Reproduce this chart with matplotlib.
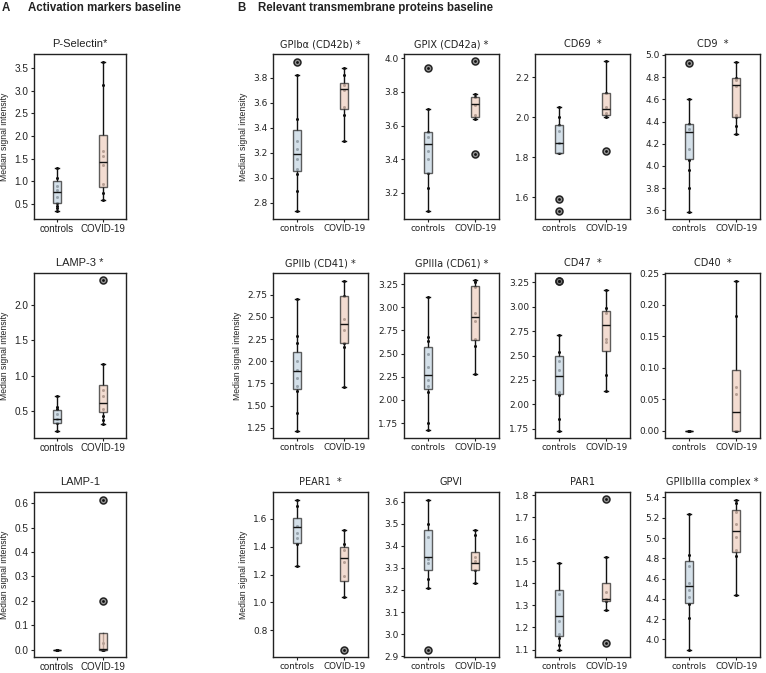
import matplotlib
matplotlib.use("Agg")
import matplotlib.pyplot as plt
from matplotlib.ticker import MultipleLocator

# ---------------- data ----------------
groups = ["controls", "COVID-19"]

# stats: [q1, median, q3, whisker_low, whisker_high]
pselectin_ctrl_stats = [0.51, 0.77, 1.01, 0.33, 1.30]
pselectin_ctrl_pts = [1.30, 1.07, 0.90, 0.80, 0.65, 0.52, 0.45, 0.40, 0.33]
pselectin_ctrl_fliers = []
pselectin_covid_stats = [0.88, 1.42, 2.02, 0.59, 3.65]
pselectin_covid_pts = [3.65, 3.12, 1.66, 1.55, 1.35, 0.93, 0.75, 0.59]
pselectin_covid_fliers = []

lamp3_ctrl_stats = [0.32, 0.38, 0.51, 0.22, 0.71]
lamp3_ctrl_pts = [0.71, 0.56, 0.52, 0.46, 0.38, 0.33, 0.22]
lamp3_ctrl_fliers = []
lamp3_covid_stats = [0.48, 0.61, 0.87, 0.31, 1.16]
lamp3_covid_pts = [1.16, 0.79, 0.71, 0.52, 0.42, 0.37, 0.31]
lamp3_covid_fliers = [2.35]

lamp1_ctrl_stats = [0.0, 0.0, 0.0, 0.0, 0.0]
lamp1_ctrl_pts = [0.0, 0.0, 0.0, 0.0, 0.0]
lamp1_ctrl_fliers = []
lamp1_covid_stats = [0.0, 0.002, 0.069, 0.0, 0.0]
lamp1_covid_pts = [0.025, 0.0, 0.0]
lamp1_covid_fliers = [0.615, 0.20]

gpiba_ctrl_stats = [3.05, 3.19, 3.38, 2.73, 3.82]
gpiba_ctrl_pts = [3.82, 3.47, 3.29, 3.23, 3.15, 3.07, 3.03, 2.89, 2.73]
gpiba_ctrl_fliers = [3.93]
gpiba_covid_stats = [3.55, 3.71, 3.76, 3.29, 3.88]
gpiba_covid_pts = [3.88, 3.82, 3.74, 3.70, 3.57, 3.50, 3.29]
gpiba_covid_fliers = []

gpix_ctrl_stats = [3.32, 3.49, 3.56, 3.09, 3.70]
gpix_ctrl_pts = [3.70, 3.56, 3.53, 3.45, 3.40, 3.32, 3.23, 3.09]
gpix_ctrl_fliers = [3.94]
gpix_covid_stats = [3.65, 3.73, 3.77, 3.64, 3.79]
gpix_covid_pts = [3.79, 3.77, 3.72, 3.66, 3.64]
gpix_covid_fliers = [3.98, 3.43]

cd69_ctrl_stats = [1.82, 1.87, 1.96, 1.82, 2.05]
cd69_ctrl_pts = [2.05, 2.00, 1.96, 1.93, 1.87, 1.82]
cd69_ctrl_fliers = [1.59, 1.53]
cd69_covid_stats = [2.01, 2.04, 2.12, 2.00, 2.28]
cd69_covid_pts = [2.28, 2.12, 2.05, 2.02, 2.00]
cd69_covid_fliers = [1.83]

cd9_ctrl_stats = [4.06, 4.31, 4.38, 3.59, 4.60]
cd9_ctrl_pts = [4.60, 4.38, 4.33, 4.15, 4.05, 3.96, 3.80, 3.59]
cd9_ctrl_fliers = [4.93]
cd9_covid_stats = [4.44, 4.73, 4.79, 4.29, 4.94]
cd9_covid_pts = [4.94, 4.79, 4.77, 4.72, 4.46, 4.44, 4.36, 4.29]
cd9_covid_fliers = []

gpiib_ctrl_stats = [1.69, 1.89, 2.10, 1.22, 2.70]
gpiib_ctrl_pts = [2.70, 2.29, 2.21, 2.00, 1.90, 1.81, 1.72, 1.67, 1.42, 1.22]
gpiib_ctrl_fliers = []
gpiib_covid_stats = [2.21, 2.42, 2.73, 1.71, 2.91]
gpiib_covid_pts = [2.91, 2.74, 2.48, 2.35, 2.21, 2.16, 1.71]
gpiib_covid_fliers = []

gpiiia_ctrl_stats = [2.12, 2.27, 2.57, 1.67, 3.11]
gpiiia_ctrl_pts = [3.11, 2.68, 2.64, 2.50, 2.36, 2.22, 2.15, 2.09, 1.75, 1.67]
gpiiia_ctrl_fliers = []
gpiiia_covid_stats = [2.65, 2.90, 3.23, 2.28, 3.29]
gpiiia_covid_pts = [3.29, 3.27, 3.22, 2.94, 2.85, 2.66, 2.58, 2.28]
gpiiia_covid_fliers = []

cd47_ctrl_stats = [2.10, 2.29, 2.49, 1.73, 2.71]
cd47_ctrl_pts = [2.71, 2.54, 2.44, 2.35, 2.13, 2.09, 1.85, 1.73]
cd47_ctrl_fliers = [3.27, 3.26]
cd47_covid_stats = [2.55, 2.81, 2.96, 2.14, 3.17]
cd47_covid_pts = [3.17, 2.99, 2.94, 2.67, 2.64, 2.30, 2.14]
cd47_covid_fliers = []

cd40_ctrl_stats = [0.0, 0.0, 0.0, 0.0, 0.0]
cd40_ctrl_pts = [0.0, 0.0, 0.0, 0.0]
cd40_ctrl_fliers = []
cd40_covid_stats = [0.0, 0.029, 0.096, 0.0, 0.239]
cd40_covid_pts = [0.239, 0.182, 0.069, 0.058, 0.0, 0.0]
cd40_covid_fliers = []

pear1_ctrl_stats = [1.43, 1.54, 1.61, 1.26, 1.74]
pear1_ctrl_pts = [1.74, 1.69, 1.55, 1.50, 1.46, 1.42, 1.26]
pear1_ctrl_fliers = []
pear1_covid_stats = [1.15, 1.32, 1.40, 1.04, 1.52]
pear1_covid_pts = [1.52, 1.42, 1.38, 1.29, 1.19, 1.04]
pear1_covid_fliers = [0.66]

gpvi_ctrl_stats = [3.29, 3.35, 3.47, 3.21, 3.61]
gpvi_ctrl_pts = [3.61, 3.50, 3.44, 3.34, 3.32, 3.25, 3.21]
gpvi_ctrl_fliers = [2.93]
gpvi_covid_stats = [3.29, 3.32, 3.37, 3.23, 3.47]
gpvi_covid_pts = [3.47, 3.45, 3.35, 3.33, 3.29, 3.23]
gpvi_covid_fliers = []

par1_ctrl_stats = [1.16, 1.25, 1.37, 1.10, 1.49]
par1_ctrl_pts = [1.49, 1.35, 1.23, 1.17, 1.15, 1.12, 1.10]
par1_ctrl_fliers = []
par1_covid_stats = [1.32, 1.33, 1.40, 1.28, 1.52]
par1_covid_pts = [1.52, 1.36, 1.33, 1.32, 1.28]
par1_covid_fliers = [1.78, 1.13]

gpiibiiia_ctrl_stats = [4.36, 4.53, 4.77, 3.90, 5.24]
gpiibiiia_ctrl_pts = [5.24, 4.83, 4.72, 4.56, 4.49, 4.42, 4.35, 4.21, 3.90]
gpiibiiia_ctrl_fliers = []
gpiibiiia_covid_stats = [4.86, 5.07, 5.28, 4.44, 5.38]
gpiibiiia_covid_pts = [5.38, 5.35, 5.26, 5.14, 5.01, 4.88, 4.82, 4.44]
gpiibiiia_covid_fliers = []

titles_a = ["P-Selectin*", "LAMP-3 *", "LAMP-1"]
titles_b = ["GPIb\u03b1 (CD42b) *", "GPIX (CD42a) *", "CD69  *", "CD9  *",
            "GPIIb (CD41) *", "GPIIIa (CD61) *", "CD47  *", "CD40  *",
            "PEAR1  *", "GPVI", "PAR1", "GPIIbIIIa complex *"]
ytick_steps_a = [0.5, 0.5, 0.1]
ytick_steps_b = [0.2, 0.2, 0.2, 0.2, 0.25, 0.25, 0.25, 0.05, 0.2, 0.1, 0.1, 0.2]

panels_a = [
    (pselectin_ctrl_stats, pselectin_ctrl_pts, pselectin_ctrl_fliers,
     pselectin_covid_stats, pselectin_covid_pts, pselectin_covid_fliers),
    (lamp3_ctrl_stats, lamp3_ctrl_pts, lamp3_ctrl_fliers,
     lamp3_covid_stats, lamp3_covid_pts, lamp3_covid_fliers),
    (lamp1_ctrl_stats, lamp1_ctrl_pts, lamp1_ctrl_fliers,
     lamp1_covid_stats, lamp1_covid_pts, lamp1_covid_fliers),
]
panels_b = [
    (gpiba_ctrl_stats, gpiba_ctrl_pts, gpiba_ctrl_fliers, gpiba_covid_stats, gpiba_covid_pts, gpiba_covid_fliers),
    (gpix_ctrl_stats, gpix_ctrl_pts, gpix_ctrl_fliers, gpix_covid_stats, gpix_covid_pts, gpix_covid_fliers),
    (cd69_ctrl_stats, cd69_ctrl_pts, cd69_ctrl_fliers, cd69_covid_stats, cd69_covid_pts, cd69_covid_fliers),
    (cd9_ctrl_stats, cd9_ctrl_pts, cd9_ctrl_fliers, cd9_covid_stats, cd9_covid_pts, cd9_covid_fliers),
    (gpiib_ctrl_stats, gpiib_ctrl_pts, gpiib_ctrl_fliers, gpiib_covid_stats, gpiib_covid_pts, gpiib_covid_fliers),
    (gpiiia_ctrl_stats, gpiiia_ctrl_pts, gpiiia_ctrl_fliers, gpiiia_covid_stats, gpiiia_covid_pts, gpiiia_covid_fliers),
    (cd47_ctrl_stats, cd47_ctrl_pts, cd47_ctrl_fliers, cd47_covid_stats, cd47_covid_pts, cd47_covid_fliers),
    (cd40_ctrl_stats, cd40_ctrl_pts, cd40_ctrl_fliers, cd40_covid_stats, cd40_covid_pts, cd40_covid_fliers),
    (pear1_ctrl_stats, pear1_ctrl_pts, pear1_ctrl_fliers, pear1_covid_stats, pear1_covid_pts, pear1_covid_fliers),
    (gpvi_ctrl_stats, gpvi_ctrl_pts, gpvi_ctrl_fliers, gpvi_covid_stats, gpvi_covid_pts, gpvi_covid_fliers),
    (par1_ctrl_stats, par1_ctrl_pts, par1_ctrl_fliers, par1_covid_stats, par1_covid_pts, par1_covid_fliers),
    (gpiibiiia_ctrl_stats, gpiibiiia_ctrl_pts, gpiibiiia_ctrl_fliers, gpiibiiia_covid_stats, gpiibiiia_covid_pts, gpiibiiia_covid_fliers),
]

# ---------------- style ----------------
W, H = 766, 673
fig = plt.figure(figsize=(W / 100, H / 100), dpi=100)

box_colors = ["#c6d6e2", "#f0d1c2"]
edge = "#2b2b2b"


def px_axes(x0, y0, x1, y1):
    return fig.add_axes([x0 / W, 1 - y1 / H, (x1 - x0) / W, (y1 - y0) / H])


def draw_panel(ax, data, title, family, tsize, ticksize, xlsize, ylabel, step):
    c_stats, c_pts, c_fl, v_stats, v_pts, v_fl = data
    stats = []
    for st, fl, lab in [(c_stats, c_fl, groups[0]), (v_stats, v_fl, groups[1])]:
        q1, med, q3, lo, hi = st
        stats.append(dict(q1=q1, med=med, q3=q3, whislo=lo, whishi=hi,
                          fliers=fl, label=lab))
    for i, pts in enumerate([c_pts, v_pts]):
        ax.plot([i] * len(pts), pts, "o", ms=2.2, color="#111111", zorder=1,
                markeredgewidth=0)
    for i, fl in enumerate([c_fl, v_fl]):
        if fl:
            ax.plot([i] * len(fl), fl, "o", ms=2.0, color="#111111", zorder=4,
                    markeredgewidth=0)
    bp = ax.bxp(stats, positions=[0, 1], widths=0.16, patch_artist=True,
                showfliers=True, capwidths=0.08,
                boxprops=dict(edgecolor=edge, linewidth=1.0),
                medianprops=dict(color="#111111", linewidth=1.0),
                whiskerprops=dict(color="#111111", linewidth=1.0),
                capprops=dict(color="#111111", linewidth=1.0),
                flierprops=dict(marker="o", markersize=5,
                                markerfacecolor=(0.45, 0.45, 0.45, 0.75),
                                markeredgecolor="#222222", markeredgewidth=1.1))
    for patch, col in zip(bp["boxes"], box_colors):
        patch.set_facecolor(col)
        patch.set_alpha(0.75)
        patch.set_edgecolor(edge)
        patch.set_zorder(2)
    for k in ["whiskers", "caps"]:
        for l in bp[k]:
            l.set_zorder(1.5)
    for l in bp["medians"]:
        l.set_zorder(3)
    for l in bp["fliers"]:
        l.set_zorder(3)
    ax.set_xlim(-0.5, 1.5)
    ax.margins(y=0.05)
    ax.yaxis.set_major_locator(MultipleLocator(step))
    ax.set_xticks([0, 1])
    ax.set_xticklabels(groups, fontsize=xlsize, family=family, color="#222222")
    ax.tick_params(axis="y", labelsize=ticksize, length=2.5, width=0.8, pad=1.5,
                   colors="#222222")
    ax.tick_params(axis="x", length=2.5, width=0.8, pad=1.2, colors="#222222")
    for lab in ax.get_yticklabels():
        lab.set_family(family)
    for s in ax.spines.values():
        s.set_linewidth(1.0)
        s.set_color("#222222")
    ax.set_title(title, fontsize=tsize, family=family, pad=5, color="#222222")
    if ylabel:
        ax.set_ylabel("Median signal intensity", fontsize=6.2, family="Liberation Sans",
                      color="#222222", labelpad=4)


rows = [(54, 219), (273, 438), (492, 657)]
colA = (34, 126)
colsB = [(273, 368), (404, 499), (535, 630), (665, 760)]

for r, (data, title) in enumerate(zip(panels_a, titles_a)):
    ax = px_axes(colA[0], rows[r][0], colA[1], rows[r][1])
    draw_panel(ax, data, title, "Liberation Sans", 8, 7.2, 7, True, ytick_steps_a[r])

for k, (data, title) in enumerate(zip(panels_b, titles_b)):
    r, c = divmod(k, 4)
    ax = px_axes(colsB[c][0], rows[r][0], colsB[c][1], rows[r][1])
    draw_panel(ax, data, title, "DejaVu Sans", 7, 6.5, 6.3, c == 0, ytick_steps_b[k])

hdr = dict(fontsize=8.3, fontweight="bold", family="Liberation Sans",
           color="#222222", va="center", ha="left")
fig.text(2 / W, 1 - 8 / H, "A", **hdr)
fig.text(28 / W, 1 - 8 / H, "Activation markers baseline", **hdr)
fig.text(237 / W, 1 - 8 / H, "B", **hdr)
fig.text(258 / W, 1 - 8 / H, "Relevant transmembrane proteins baseline", **hdr)

fig.savefig("out.png", dpi=100)
